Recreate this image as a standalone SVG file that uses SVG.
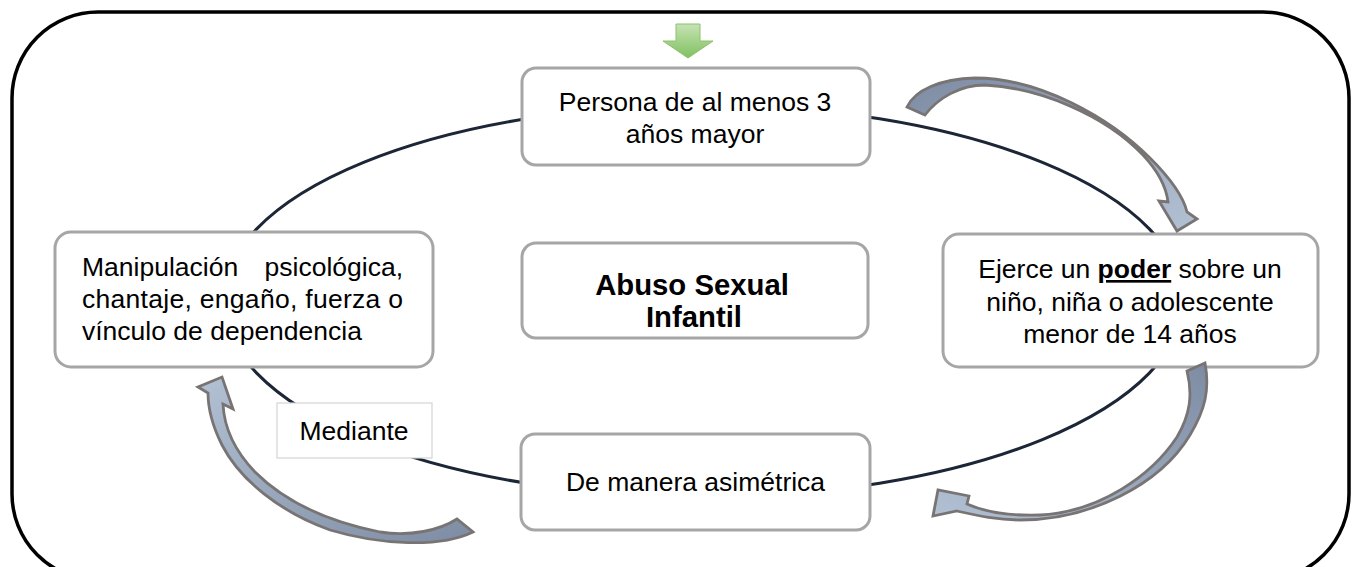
<svg xmlns="http://www.w3.org/2000/svg" width="1352" height="567" viewBox="0 0 1352 567">
<defs>
<style>
.box{fill:#fff;stroke:#a6a6a6;stroke-width:3}
.t{font-family:"Liberation Sans",Arial,sans-serif;font-size:26.5px;fill:#000}
.b{font-weight:bold}
.ca{stroke:#797474;stroke-width:2.8;stroke-linejoin:miter}
</style>
<linearGradient id="g1" x1="0" y1="0" x2="1" y2="1"><stop offset="0" stop-color="#7d8ca3"/><stop offset="1" stop-color="#b3c1d4"/></linearGradient>
<linearGradient id="g2" x1="1" y1="0" x2="0" y2="1"><stop offset="0" stop-color="#7d8ca3"/><stop offset="1" stop-color="#b3c1d4"/></linearGradient>
<linearGradient id="g3" x1="1" y1="1" x2="0" y2="0"><stop offset="0" stop-color="#7d8ca3"/><stop offset="1" stop-color="#b3c1d4"/></linearGradient>
<linearGradient id="gg" x1="0" y1="0" x2="0" y2="1"><stop offset="0" stop-color="#c6e3b4"/><stop offset="1" stop-color="#80c060"/></linearGradient>
</defs>
<rect x="12" y="12" width="1337" height="568" rx="86" fill="#fff" stroke="#000" stroke-width="3.5"/>
<g id="cycle">
<ellipse cx="703" cy="301" rx="480" ry="196" fill="none" stroke="#1c2636" stroke-width="3"/>
</g>
<g id="node-top">
<rect class="box" x="522" y="68" width="348" height="97" rx="14"/>
<text class="t" text-anchor="middle"><tspan x="695" y="111">Persona de al menos 3</tspan><tspan x="695" y="143">años mayor</tspan></text>
</g>
<g id="node-center">
<rect class="box" x="522" y="243" width="346" height="95" rx="14"/>
<text class="t b" style="font-size:29.3px" text-anchor="middle"><tspan x="692" y="295">Abuso Sexual</tspan><tspan x="694" y="327">Infantil</tspan></text>
</g>
<g id="node-right">
<rect class="box" x="943" y="234" width="375" height="133" rx="16"/>
<text class="t" text-anchor="middle"><tspan x="1130" y="278">Ejerce un <tspan class="b" text-decoration="underline">poder</tspan> sobre un</tspan><tspan x="1130" y="311">niño, niña o adolescente</tspan><tspan x="1130" y="343">menor de 14 años</tspan></text>
</g>
<g id="node-bottom">
<rect class="box" x="521" y="434" width="349" height="96" rx="14"/>
<text class="t" x="695.5" y="491" text-anchor="middle">De manera asimétrica</text>
</g>
<g id="node-left">
<rect class="box" x="55" y="232" width="378" height="135" rx="16"/>
<text class="t" x="82" y="276">Manipulación</text>
<text class="t" x="403" y="276" text-anchor="end">psicológica,</text>
<text class="t" x="82" y="308" textLength="321" lengthAdjust="spacing">chantaje, engaño, fuerza o</text>
<text class="t" x="82" y="340">vínculo de dependencia</text>
</g>
<g id="label-mediante">
<rect x="277" y="403" width="155" height="55" fill="#fff" stroke="#d4d4d4" stroke-width="1.2"/>
<text class="t" x="354" y="440" text-anchor="middle">Mediante</text>
</g>
<g id="connectors">
<polygon points="676,24 700,24 700,41 713,41 688,58 663,41 676,41" fill="url(#gg)" stroke="#8cc26c" stroke-width="1"/>
<path class="ca" fill="url(#g1)" d="M907,107 C915,90 940,79 975,78 C1040,78 1110,118 1150,158 C1170,178 1183,195 1187,212 L1197,219 L1177,231 L1159,201 L1168,202 C1166,185 1157,170 1143,155 C1105,115 1040,88 985,85 C960,85 938,98 925,115 Z"/>
<path class="ca" fill="url(#g2)" d="M1187,371 L1205,363 C1210,390 1205,410 1190,435 C1160,485 1090,520 1020,520 C995,520 975,515 957,511 L933,516 L938,490 L969,496 L967,504 C985,512 1010,516 1040,515 C1100,512 1152,475 1177,437 C1190,415 1193,395 1187,371 Z"/>
<path class="ca" fill="url(#g3)" d="M473,532 C440,548 380,545 330,530 C280,512 240,480 222,445 C212,425 208,410 208,393 L198,387 L222,377 L233,409 L223,404 C224,425 232,448 255,472 C285,502 330,522 380,532 C410,537 440,530 457,519 Z"/>
</g>
</svg>
